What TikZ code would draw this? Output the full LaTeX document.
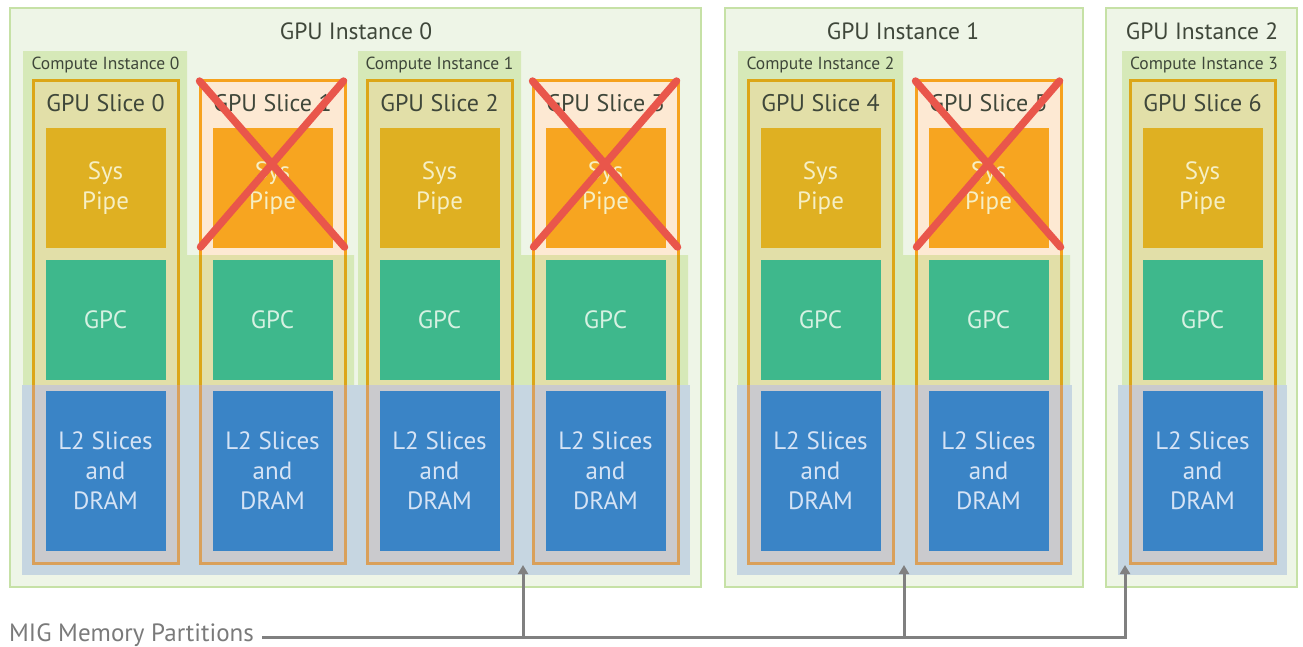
\documentclass[tikz,border=0pt]{standalone}
\usepackage{fontspec}
\setmainfont{PT Sans}
\usetikzlibrary{arrows.meta}
\definecolor{gifill}{HTML}{EEF5E7}
\definecolor{gidraw}{HTML}{C6E1A6}
\definecolor{cigreen}{HTML}{76B900}
\definecolor{peach}{HTML}{FDE9D3}
\definecolor{slicedraw}{HTML}{F6A21E}
\definecolor{band}{HTML}{C6D6E1}
\definecolor{slicegray}{HTML}{CACACD}
\definecolor{slicetan}{HTML}{D9A05A}
\definecolor{sysnorm}{HTML}{DFB022}
\definecolor{syscross}{HTML}{F7A520}
\definecolor{gpccol}{HTML}{3EB88C}
\definecolor{ltwo}{HTML}{3A84C6}
\definecolor{xred}{HTML}{E9564B}
\definecolor{titletext}{HTML}{3F473A}
\definecolor{systext}{HTML}{F6EFC4}
\definecolor{gpctext}{HTML}{D6F1E2}
\definecolor{ltwotext}{HTML}{D5E3F5}
\definecolor{arrowgray}{HTML}{808080}
\definecolor{labelgray}{HTML}{7A7A7A}
\begin{document}
\begin{tikzpicture}[x=1pt,y=-1pt,
  gibox/.style={fill=gifill, draw=gidraw, line width=2pt},
  cishape/.style={fill=cigreen, fill opacity=0.2},
  bandbox/.style={fill=band},
  unitbox/.style={minimum width=120pt, minimum height=120pt, inner sep=0pt, align=center, font=\fontsize{25}{30}\selectfont},
  sysbox/.style={unitbox, text=systext},
  gpcbox/.style={unitbox, fill=gpccol, text=gpctext},
  ltwobox/.style={unitbox, minimum height=160pt, fill=ltwo, text=ltwotext},
  titlelabel/.style={text=titletext, font=\fontsize{23.5}{26}\selectfont, inner sep=0pt},
  slicelabel/.style={text=titletext, font=\fontsize{24}{26}\selectfont, inner sep=0pt},
  cilabel/.style={text=titletext, font=\fontsize{17.5}{19}\selectfont, inner sep=0pt},
  xline/.style={draw=xred, line width=7.5pt, line cap=round},
  conn/.style={draw=arrowgray, line width=3pt},
]
\useasboundingbox (0,0) rectangle (1303,646);
% GPU instances
\draw[gibox] (10,8) rectangle (701,587);
\draw[gibox] (725,8) rectangle (1083,587);
\draw[gibox] (1106,8) rectangle (1297,587);
% slice upper parts
\foreach \cx in {105.5,272.5,439.5,605.5,820.5,988.5,1202.5} {
  \fill[peach] (\cx-72.5,80) rectangle (\cx+72.5,385);
  \draw[slicedraw, line width=3pt] (\cx-72.5,385) -- (\cx-72.5,80) -- (\cx+72.5,80) -- (\cx+72.5,385);
}
% compute instances
\fill[cishape] (23,51) -- (187,51) -- (187,255) -- (354,255) -- (354,385) -- (23,385) -- cycle;
\fill[cishape] (358,51) -- (521,51) -- (521,255) -- (688,255) -- (688,385) -- (358,385) -- cycle;
\fill[cishape] (738,51) -- (903,51) -- (903,255) -- (1070,255) -- (1070,385) -- (738,385) -- cycle;
\fill[cishape] (1122,51) -- (1286,51) -- (1286,385) -- (1122,385) -- cycle;
% memory bands
\fill[bandbox] (22,385) rectangle (690,575);
\fill[bandbox] (737,385) rectangle (1072,575);
\fill[bandbox] (1118,385) rectangle (1287,575);
% slice lower parts
\foreach \cx in {105.5,272.5,439.5,605.5,820.5,988.5,1202.5} {
  \fill[slicegray] (\cx-72.5,385) rectangle (\cx+72.5,563);
  \draw[slicetan, line width=3pt] (\cx-72.5,385) -- (\cx-72.5,563) -- (\cx+72.5,563) -- (\cx+72.5,385);
}
% titles
\node[titlelabel] (gi0) at (356,31) {GPU Instance 0};
\node[titlelabel] (gi1) at (903,31) {GPU Instance 1};
\node[titlelabel] (gi2) at (1202,31) {GPU Instance 2};
\node[cilabel] (ci0) at (105.5,65) {Compute Instance 0};
\node[cilabel] (ci1) at (439.5,65) {Compute Instance 1};
\node[cilabel] (ci2) at (820.5,65) {Compute Instance 2};
\node[cilabel] (ci3) at (1204,65) {Compute Instance 3};
% slices content
\foreach \i/\cx/\crs in {0/105.5/0,1/272.5/1,2/439.5/0,3/605.5/1,4/820.5/0,5/988.5/1,6/1202.5/0} {
  \ifnum\crs=1 \def\sc{syscross}\else\def\sc{sysnorm}\fi
  \node[slicelabel] (sl\i) at (\cx,103) {GPU Slice \i};
  \node[sysbox, fill=\sc] (sp\i) at (\cx,188) {Sys\\Pipe};
  \node[gpcbox] (gpc\i) at (\cx,320) {GPC};
  \node[ltwobox] (l2\i) at (\cx,471) {L2 Slices\\and\\DRAM};
  \ifnum\crs=1
    \draw[xline] (\cx-73,81) -- (\cx+72,247);
    \draw[xline] (\cx+71,81) -- (\cx-72,247);
  \fi
}
% memory partitions
\node[anchor=base west, text=labelgray, font=\fontsize{25}{28}\selectfont, inner sep=0pt] (mig) at (9,641) {MIG Memory Partitions};
\coordinate (hl) at (262,637);
\coordinate (m0) at (523,565);
\coordinate (m1) at (904,565);
\coordinate (m2) at (1125,565);
\draw[conn, -{Triangle[length=9pt,width=10pt]}] (hl) -| (m2);
\draw[conn, -{Triangle[length=9pt,width=10pt]}] (m0 |- hl) -- (m0);
\draw[conn, -{Triangle[length=9pt,width=10pt]}] (m1 |- hl) -- (m1);
\end{tikzpicture}
\end{document}
